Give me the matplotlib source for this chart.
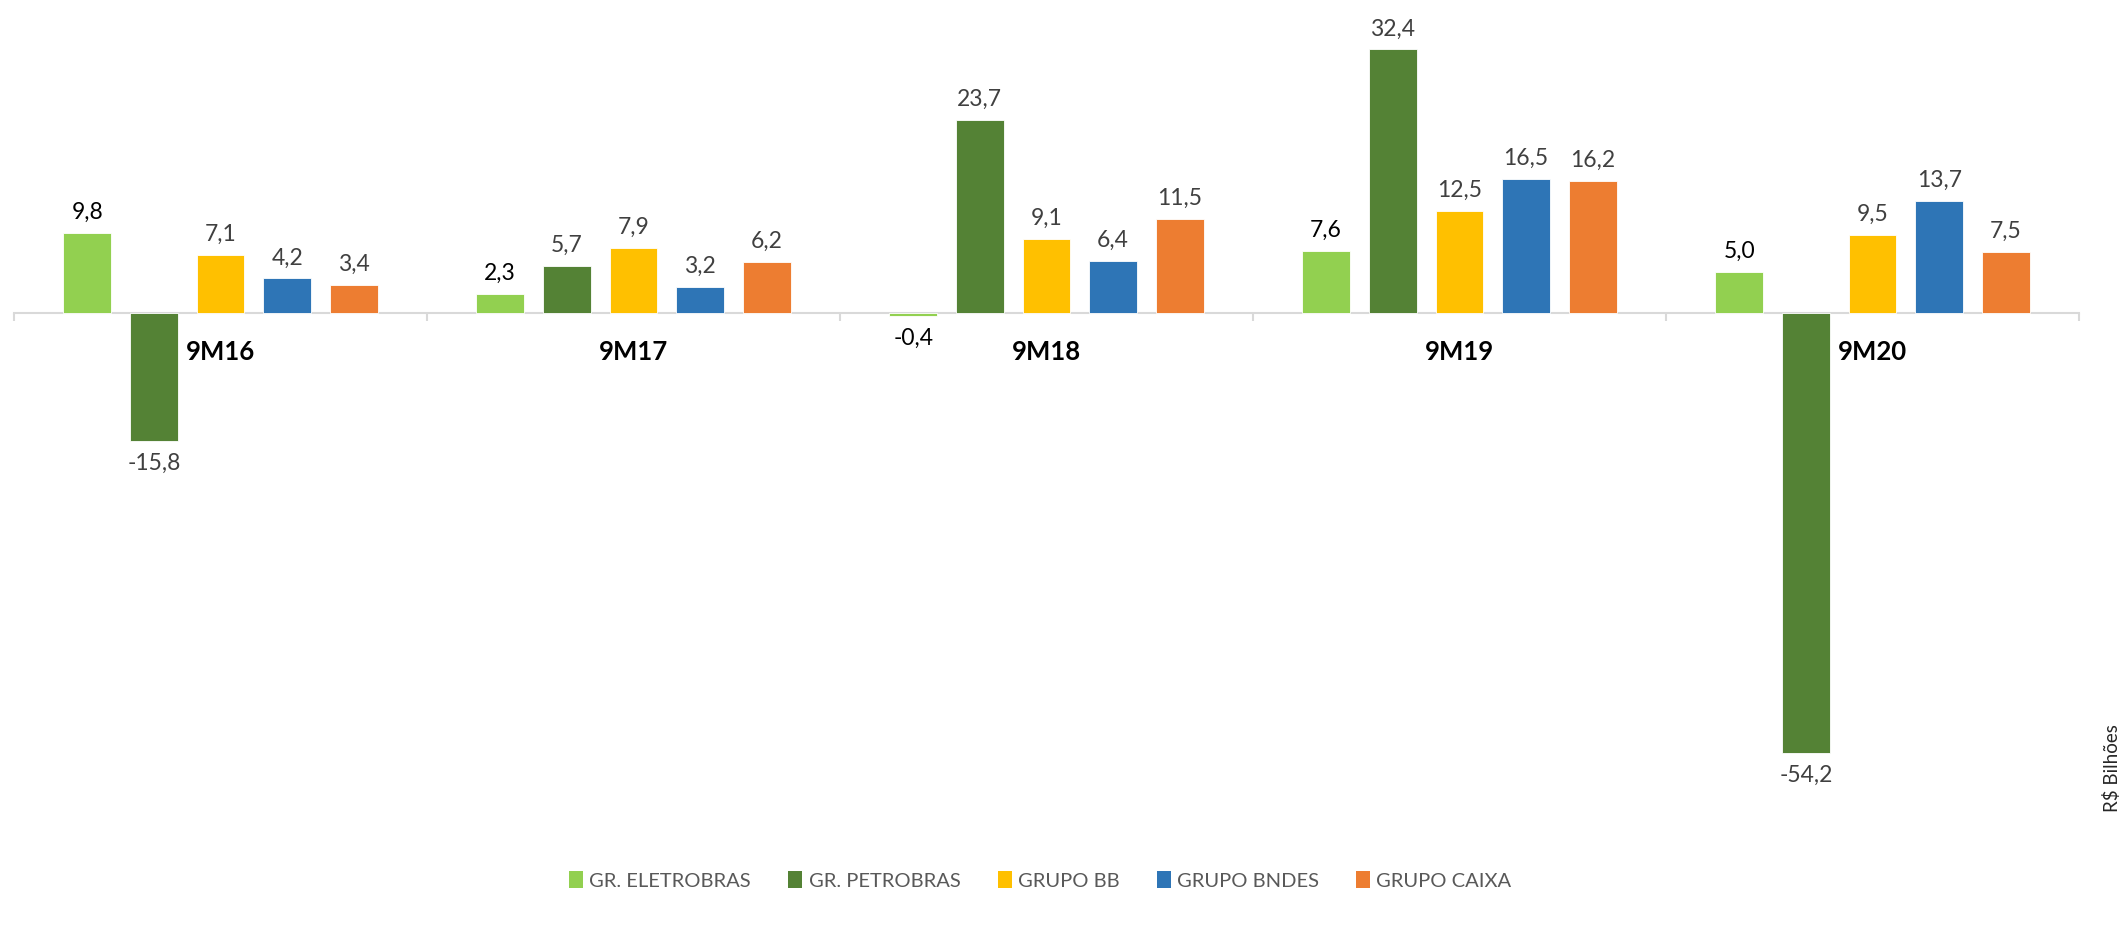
import matplotlib
matplotlib.use("Agg")
import matplotlib.pyplot as plt
from matplotlib.patches import Patch

plt.rcParams['font.family'] = ['Lato', 'DejaVu Sans']

categories = ["9M16", "9M17", "9M18", "9M19", "9M20"]
series_names = ["GR. ELETROBRAS", "GR. PETROBRAS", "GRUPO BB", "GRUPO BNDES", "GRUPO CAIXA"]
eletrobras = [9.8, 2.3, -0.4, 7.6, 5.0]
petrobras = [-15.8, 5.7, 23.7, 32.4, -54.2]
grupo_bb = [7.1, 7.9, 9.1, 12.5, 9.5]
grupo_bndes = [4.2, 3.2, 6.4, 16.5, 13.7]
grupo_caixa = [3.4, 6.2, 11.5, 16.2, 7.5]
series_values = [eletrobras, petrobras, grupo_bb, grupo_bndes, grupo_caixa]
colors = ["#92D050", "#548235", "#FFC000", "#2E75B6", "#ED7D31"]
label_colors = ["#000000", "#404040", "#404040", "#404040", "#404040"]

W, H = 2123, 928
fig = plt.figure(figsize=(W / 100, H / 100), dpi=100)
ax = fig.add_axes([14 / W, 0.1196, (2079 - 14) / W, 0.875])

pitch = 0.1614
width = 0.116
for k, (vals, c, lc) in enumerate(zip(series_values, colors, label_colors)):
    xs = [i + (k - 2) * pitch for i in range(len(categories))]
    ax.bar(xs, vals, width=width, color=c, edgecolor="white", linewidth=0.6, zorder=2)
    for x, v in zip(xs, vals):
        off = 8 if v >= 0 else -8
        ax.annotate(f"{v:.1f}".replace(".", ","), xy=(x, v), xytext=(0, off),
                    textcoords="offset points", ha="center",
                    va="bottom" if v >= 0 else "top", fontsize=16.5, color=lc)

for i, cat in enumerate(categories):
    ax.annotate(cat, xy=(i, 0), xytext=(0, -28), textcoords="offset points",
                ha="center", va="center", fontsize=18.5, fontweight="bold",
                color="black", zorder=5)

ax.set_xlim(-0.5, 4.5)
ax.set_ylim(-62, 38)
for s in ["top", "right", "left"]:
    ax.spines[s].set_visible(False)
ax.spines["bottom"].set_position(("data", 0))
ax.spines["bottom"].set_color("#D9D9D9")
ax.spines["bottom"].set_linewidth(1.5)
ax.spines["bottom"].set_zorder(1)
ax.set_yticks([])
ax.set_xticks([b - 0.5 for b in range(len(categories) + 1)])
ax.set_xticklabels([])
ax.tick_params(axis="x", direction="out", length=6, width=1.5, color="#D9D9D9")

handles = [Patch(facecolor=c, edgecolor="none") for c in colors]
fig.legend(handles, series_names, loc="center", bbox_to_anchor=(0.49, 1 - 881 / H),
           ncol=5, frameon=False, fontsize=14.5, handlelength=0.7, handleheight=0.9,
           handletextpad=0.3, columnspacing=1.85, labelcolor="#595959")

fig.text(2112 / W, 1 - 768 / H, "R$ Bilhões", rotation=90, ha="center", va="center",
         fontsize=13.5, color="#262626")

fig.savefig("out.png", dpi=100, facecolor="white")
